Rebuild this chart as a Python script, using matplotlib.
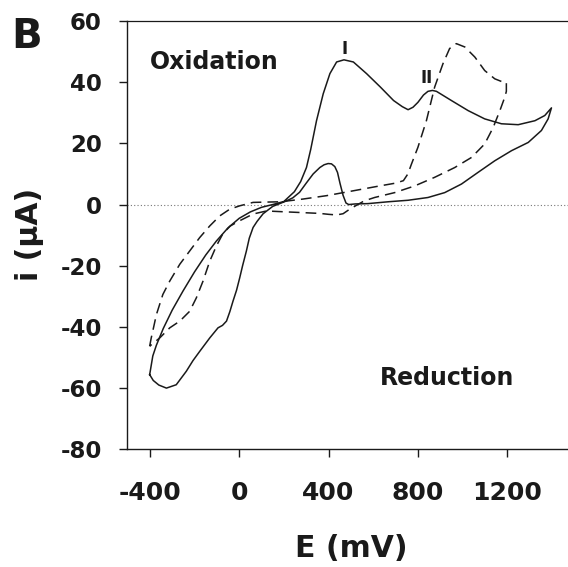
import matplotlib
matplotlib.use("Agg")
import matplotlib.pyplot as plt

# ---- data (E in mV, i in uA) ----
solid_E = [-401, -387, -371, -340, -300, -252, -200, -150, -102, -50, 0, 50, 100, 150, 200,
           247, 275, 301, 320, 346, 376, 406, 436, 469, 511, 570, 632, 691, 730, 756, 778,
           800, 825, 845, 865, 883, 950, 1025, 1099, 1174, 1249, 1324, 1368, 1398,
           1383, 1353, 1294, 1219, 1144, 1069, 995, 920, 845, 756, 666, 576, 520, 490,
           478, 465, 451, 440, 428, 413, 398, 380, 361, 331, 300, 270, 240, 212, 150,
           107, 80, 62, 45, 32, 15, 2, -12, -28, -42, -57, -75, -95, -132, -177, -207,
           -237, -282, -326, -360, -385, -401]
solid_I = [-55.6, -49.5, -46, -40.5, -34.5, -28.3, -22, -16.5, -11.9, -7.6, -4.5, -2.4, -0.9, 0, 1.0,
           4.2, 7.5, 12.1, 18, 27.4, 36.2, 42.8, 46.6, 47.3, 46.6, 42.8, 38.4, 34, 32, 31, 31.8,
           33.4, 35.8, 37, 37.3, 37, 34, 30.7, 28, 26.4, 26.1, 27.4, 29.1, 31.6,
           28, 24.2, 20.3, 17.6, 14.3, 10.5, 6.7, 3.9, 2.3, 1.4, 0.9, 0.3, 0.2, 0.0,
           0.5, 3.0, 7.0, 10.5, 12.4, 13.3, 13.4, 13.0, 12.1, 10, 7, 4, 2.2, 1.2, -0.6,
           -3.0, -5.5, -7.5, -11, -15.2, -20, -24, -28, -31.6, -35, -38.1, -39.5, -40.3, -43.6, -48, -51,
           -54.5, -58.9, -60, -59, -57.5, -55.6]

dashed_E = [-401, -394, -386, -371, -342, -311, -266, -222, -177, -132, -87, -42, 3, 62, 120,
            185, 286, 391, 511, 630, 700, 735, 755, 771, 800, 838, 875, 912, 942, 972,
            1010, 1055, 1099, 1144, 1175, 1196, 1196, 1189, 1167, 1137, 1099, 1040, 965,
            875, 786, 696, 606, 560, 533, 495, 465, 436, 400, 361, 271, 180, 122, 62, 2,
            -40, -73, -102, -132, -162, -192, -222, -266, -311, -356, -401]
dashed_I = [-46.3, -43.6, -41, -36, -29.4, -25, -19.5, -15.2, -10.8, -7, -3.7, -1.5, -0.4, 0.7, 0.8,
            0.9, 1.8, 2.9, 4.5, 6.1, 7.0, 7.8, 10, 13.2, 18.7, 27.4, 38.4, 46, 51, 52.6,
            51.5, 48.2, 43.8, 41.1, 40.2, 40, 37, 35.1, 30.7, 25.2, 19.8, 15.4, 12.1,
            8.9, 6.1, 3.9, 2.3, 1.2, 0.1, -1.5, -3.0, -3.4, -3.2, -2.9, -2.6, -2.3, -2.1, -3.1, -5.3,
            -7, -9.5, -13.5, -18.5, -25, -30.5, -34.9, -38.1, -40.3, -43.6, -46.3]

x_ticks = [-400, 0, 400, 800, 1200]
y_ticks = [-80, -60, -40, -20, 0, 20, 40, 60]

FONT = "DejaVu Sans"
ink = "#1a1a1a"

fig = plt.figure(figsize=(5.68, 5.67), dpi=100)
ax = fig.add_axes([0.223, 0.2076, 0.777, 0.7554])

ax.axhline(0, color="#777777", lw=0.8, ls=(0, (1, 2)), zorder=1)
ax.plot(solid_E, solid_I, color=ink, lw=1.1, zorder=3)
ax.plot(dashed_E, dashed_I, color=ink, lw=1.1, dashes=(7, 4), zorder=3)

ax.set_xlim(-504, 1472)
ax.set_ylim(-80, 60)
ax.set_xticks(x_ticks)
ax.set_yticks(y_ticks)
ax.set_xticklabels([str(v) for v in x_ticks], fontsize=18, fontweight="bold", family=FONT)
ax.set_yticklabels([str(v) for v in y_ticks], fontsize=16.5, fontweight="bold", family=FONT)
ax.tick_params(axis="x", direction="out", length=6, width=1, pad=17, colors=ink)
ax.tick_params(axis="y", direction="out", length=6, width=1, pad=12, colors=ink)

ax.spines["right"].set_visible(False)
ax.spines["top"].set_linewidth(0.9)
ax.spines["left"].set_linewidth(1.0)
ax.spines["bottom"].set_linewidth(1.0)
for s in ax.spines.values():
    s.set_color(ink)

ax.text(-401, 44.2, "Oxidation", fontsize=17, fontweight="bold", family=FONT,
        ha="left", va="baseline", color=ink)
ax.text(630, -58.9, "Reduction", fontsize=17, fontweight="bold", family=FONT,
        ha="left", va="baseline", color=ink)
ax.text(473, 51, "I", fontsize=12, fontweight="bold", family=FONT,
        ha="center", va="center", color=ink)
ax.text(841, 41.2, "II", fontsize=12, fontweight="bold", family=FONT,
        ha="center", va="center", color=ink)

fig.text(351 / 568, 1 - 548.3 / 567, "E (mV)", fontsize=21.5, fontweight="bold",
         family=FONT, ha="center", va="center", color=ink)
fig.text(29.2 / 568, 1 - 234 / 567, "i (μA)", fontsize=21.5, fontweight="bold",
         family=FONT, ha="center", va="center", rotation=90, color=ink)
fig.text(11 / 568, 1 - 47.7 / 567, "B", fontsize=29, fontweight="bold",
         family=FONT, ha="left", va="baseline", color=ink)

fig.savefig("out.png", dpi=100)
